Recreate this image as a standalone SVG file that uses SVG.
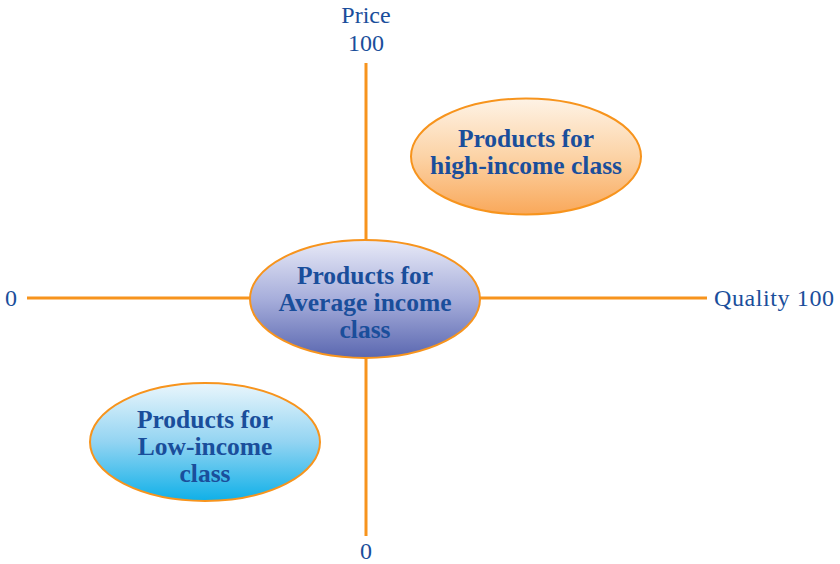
<svg xmlns="http://www.w3.org/2000/svg" width="840" height="564" viewBox="0 0 840 564">
<defs>
<linearGradient id="gHigh" x1="0" y1="0" x2="0" y2="1">
<stop offset="0" stop-color="#FEF3E6"/>
<stop offset="0.5" stop-color="#FCD3A6"/>
<stop offset="1" stop-color="#F9A85A"/>
</linearGradient>
<linearGradient id="gAvg" x1="0" y1="0" x2="0" y2="1">
<stop offset="0" stop-color="#E8EAF7"/>
<stop offset="0.5" stop-color="#A7AEDB"/>
<stop offset="1" stop-color="#5A67B0"/>
</linearGradient>
<linearGradient id="gLow" x1="0" y1="0" x2="0" y2="1">
<stop offset="0" stop-color="#EAF6FC"/>
<stop offset="0.5" stop-color="#93D4F2"/>
<stop offset="1" stop-color="#0FB0E8"/>
</linearGradient>
<style>
.axis{stroke:#F7941D;stroke-width:3;fill:none}
.node{stroke:#F7941D;stroke-width:2}
.nt{font-family:'Liberation Serif',serif;font-weight:bold;font-size:25.5px;fill:#1A4E9B;text-anchor:middle}
.lbl{font-family:'Liberation Serif',serif;font-size:24px;fill:#1A4E9B}
</style>
</defs>
<g id="connectors">
<line class="axis" x1="366" y1="63" x2="366" y2="536"/>
<line class="axis" x1="27" y1="298" x2="707" y2="298"/>
</g>
<g id="labels">
<text class="lbl" x="366" y="23" text-anchor="middle">Price</text>
<text class="lbl" x="366" y="51" text-anchor="middle">100</text>
<text class="lbl" x="5" y="306">0</text>
<text class="lbl" x="714" y="306" textLength="120" lengthAdjust="spacing">Quality 100</text>
<text class="lbl" x="366" y="559" text-anchor="middle">0</text>
</g>
<g id="high">
<ellipse class="node" cx="526" cy="156.5" rx="115" ry="58" fill="url(#gHigh)"/>
<text class="nt" x="526" y="147">Products for</text>
<text class="nt" x="526" y="174">high-income class</text>
</g>
<g id="average">
<ellipse class="node" cx="365" cy="299" rx="115" ry="59" fill="url(#gAvg)"/>
<text class="nt" x="365" y="284">Products for</text>
<text class="nt" x="365" y="311">Average income</text>
<text class="nt" x="365" y="338">class</text>
</g>
<g id="low">
<ellipse class="node" cx="205" cy="442" rx="115" ry="59" fill="url(#gLow)"/>
<text class="nt" x="205" y="428">Products for</text>
<text class="nt" x="205" y="455">Low-income</text>
<text class="nt" x="205" y="482">class</text>
</g>
</svg>
